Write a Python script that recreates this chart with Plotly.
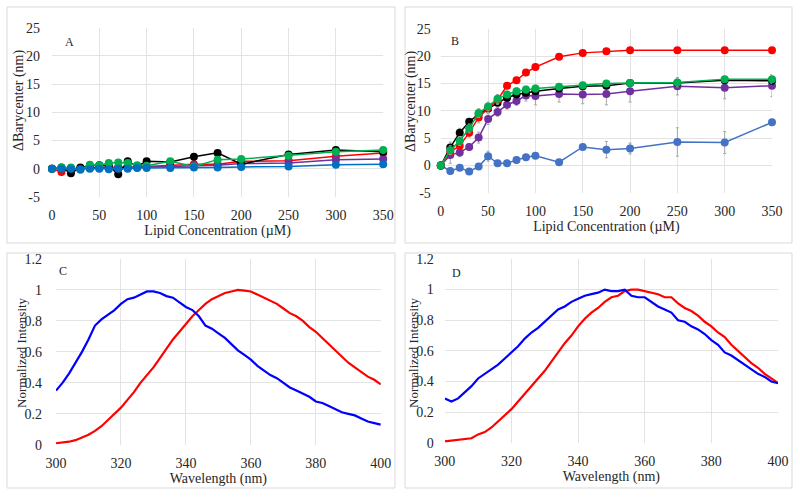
import plotly.graph_objects as go

# ---- data ----
lipid = [0, 10, 20, 30, 40, 50, 60, 70, 80, 90, 100, 125, 150, 175, 200, 250, 300, 350]

a_black = [0, 0.2, -0.8, 0.2, 0.5, 0.6, 0.5, -1.0, 1.3, 0.4, 1.3, 1.2, 2.1, 2.8, 0.8, 2.5, 3.3, 3.0]
a_green = [0, 0.2, 0.2, -0.2, 0.7, 0.6, 1.0, 1.1, 1.0, 0.6, 0.5, 1.3, 0.4, 1.6, 1.7, 2.3, 3.0, 3.3]
a_red = [0, -0.6, 0, 0, 0.1, 0.2, 0.2, 0.2, 0.3, 0.3, 0.4, 0.6, 0.8, 0.8, 1.3, 1.4, 2.2, 2.8]
a_purple = [0, 0.1, 0, 0, 0.1, 0.1, 0.1, 0.2, 0.2, 0.2, 0.3, 0.4, 0.5, 0.6, 0.9, 1.0, 1.6, 1.7]
a_blue = [0, 0, 0, -0.1, 0, 0, -0.1, 0, 0, 0.1, 0.1, 0.1, 0.2, 0.2, 0.3, 0.4, 0.7, 0.8]

b_red = [0, 2.5, 3.6, 6.0, 8.8, 10.5, 12.0, 14.6, 15.6, 17.0, 18.0, 19.9, 20.6, 20.9, 21.1, 21.1, 21.1, 21.1]
b_green = [0, 2.8, 4.5, 6.8, 9.6, 10.8, 12.2, 13.0, 13.6, 13.9, 14.1, 14.4, 14.7, 15.0, 15.1, 15.2, 15.8, 15.8]
b_black = [0, 3.3, 6.0, 8.0, 9.4, 10.4, 11.5, 12.4, 13.0, 13.3, 13.6, 14.1, 14.5, 14.6, 15.1, 15.1, 15.6, 15.5]
b_purple = [0, 1.9, 2.4, 3.4, 5.1, 8.5, 9.8, 11.1, 11.8, 12.8, 12.7, 13.1, 13.0, 13.1, 13.6, 14.5, 14.2, 14.6]
b_blue = [0, -1.0, -0.4, -1.1, -0.2, 1.7, 0.4, 0.4, 1.0, 1.5, 1.8, 0.6, 3.4, 2.9, 3.1, 4.3, 4.2, 7.9]

b_red_err = [0, 0.5, 0.5, 0.8, 1.0, 0.8, 0.8, 0.5, 0.5, 0.5, 0.5, 0.4, 0.4, 0.4, 0.3, 0.3, 0.3, 0.3]
b_green_err = [0, 0.8, 0.8, 0.8, 0.8, 0.8, 0.8, 0.6, 0.6, 0.6, 0.6, 0.5, 0.5, 0.5, 0.5, 0.8, 0.5, 0.8]
b_black_err = [0, 1.0, 0.8, 0.6, 0.6, 0.6, 0.6, 0.5, 0.5, 0.5, 0.5, 0.5, 0.5, 0.5, 0.5, 0.5, 0.5, 0.5]
b_purple_err = [0, 1.5, 0.8, 0.6, 1.0, 1.0, 0.8, 0.8, 0.8, 1.0, 1.6, 1.5, 1.7, 2.0, 2.0, 1.6, 2.0, 2.0]
b_blue_err = [0, 0.6, 0.5, 0.5, 0.5, 0.9, 0.5, 0.5, 0.5, 0.5, 0.5, 0.5, 0.5, 1.5, 1.0, 2.6, 2.0, 0.6]

bary_ticks = [-5, 0, 5, 10, 15, 20, 25]
bary_ticktext = ["-5", "0", "5", "10", "15", "20", "25"]
ni_ticks = [0, 0.2, 0.4, 0.6, 0.8, 1.0, 1.2]
ni_ticktext = ["0", "0.2", "0.4", "0.6", "0.8", "1", "1.2"]

wavelength = list(range(300, 401, 2))

c_blue = [0.35, 0.40, 0.46, 0.53, 0.60, 0.68, 0.77, 0.81, 0.84, 0.87, 0.91, 0.94, 0.95, 0.97, 0.99,
          0.99, 0.98, 0.96, 0.95, 0.92, 0.89, 0.87, 0.83, 0.77, 0.75, 0.72, 0.69, 0.65, 0.61, 0.58,
          0.55, 0.51, 0.48, 0.45, 0.43, 0.40, 0.37, 0.35, 0.33, 0.31, 0.28, 0.27, 0.25, 0.23, 0.21,
          0.20, 0.19, 0.17, 0.15, 0.14, 0.13]
c_red = [0.01, 0.015, 0.02, 0.03, 0.045, 0.065, 0.09, 0.12, 0.16, 0.20, 0.24, 0.29, 0.34, 0.40, 0.45,
         0.50, 0.56, 0.62, 0.68, 0.73, 0.78, 0.83, 0.87, 0.91, 0.94, 0.96, 0.98, 0.99, 1.0, 0.995,
         0.99, 0.97, 0.95, 0.93, 0.91, 0.88, 0.85, 0.83, 0.80, 0.76, 0.73, 0.69, 0.65, 0.61, 0.57,
         0.53, 0.50, 0.47, 0.44, 0.42, 0.39]

d_blue = [0.29, 0.27, 0.29, 0.33, 0.37, 0.42, 0.45, 0.48, 0.51, 0.55, 0.59, 0.63, 0.68, 0.72, 0.75,
          0.79, 0.83, 0.87, 0.89, 0.92, 0.94, 0.96, 0.97, 0.98, 1.0, 0.99, 0.99, 1.0, 0.96, 0.95,
          0.95, 0.92, 0.89, 0.87, 0.85, 0.80, 0.79, 0.76, 0.74, 0.71, 0.67, 0.64, 0.59, 0.57, 0.54,
          0.51, 0.48, 0.45, 0.43, 0.40, 0.39]
d_red = [0.01, 0.015, 0.02, 0.025, 0.03, 0.055, 0.07, 0.10, 0.14, 0.18, 0.22, 0.27, 0.32, 0.37, 0.42,
         0.47, 0.53, 0.59, 0.65, 0.70, 0.76, 0.81, 0.85, 0.88, 0.92, 0.95, 0.96, 0.99, 1.0, 1.0,
         0.99, 0.98, 0.97, 0.95, 0.95, 0.91, 0.88, 0.86, 0.83, 0.79, 0.76, 0.72, 0.69, 0.64, 0.60,
         0.56, 0.52, 0.49, 0.45, 0.42, 0.39]

RED = "#FF0000"
GREEN = "#00B050"
BLACK = "#000000"
PURPLE = "#7030A0"
BLUE_A = "#0070C0"
BLUE_B = "#4472C4"
FONT = "Liberation Serif"
W, H = 800, 497

fig = go.Figure()


def add_series(y, color, xa, ya, err=None):
    fig.add_trace(go.Scatter(
        x=lipid, y=y, mode="lines+markers", xaxis=xa, yaxis=ya,
        line=dict(color=color, width=1.5),
        marker=dict(color=color, size=8),
        error_y=None if err is None else dict(type="data", array=err, color="#A6A6A6",
                                              thickness=1, width=1.5),
        cliponaxis=False,
        showlegend=False,
    ))


# panel A
for y, c in [(a_red, RED), (a_purple, PURPLE), (a_black, BLACK), (a_green, GREEN), (a_blue, BLUE_A)]:
    add_series(y, c, "x", "y")

# panel B
for y, c, e in [(b_blue, BLUE_B, b_blue_err), (b_purple, PURPLE, b_purple_err),
                (b_black, BLACK, b_black_err), (b_red, RED, b_red_err), (b_green, GREEN, b_green_err)]:
    add_series(y, c, "x2", "y2", e)

# panels C and D
for y, c, xa, ya in [(c_red, RED, "x3", "y3"), (c_blue, "#0000FF", "x3", "y3"),
                     (d_red, RED, "x4", "y4"), (d_blue, "#0000FF", "x4", "y4")]:
    fig.add_trace(go.Scatter(x=wavelength, y=y, mode="lines", xaxis=xa, yaxis=ya,
                             line=dict(color=c, width=2.2), cliponaxis=False, showlegend=False))

grid = "#E3E3E3"
ink = "#262626"
tickfont = dict(family=FONT, size=14, color=ink)
titlefont = dict(family=FONT, size=14, color=ink)

common_x = dict(showgrid=True, gridcolor=grid, zeroline=False, showline=False, automargin=False,
                tickfont=tickfont, ticks="", ticklabelstandoff=8, fixedrange=True)
common_y = dict(showgrid=True, gridcolor=grid, zeroline=False, showline=False, automargin=False,
                tickfont=tickfont, ticks="", ticklabelstandoff=11, fixedrange=True)

lip_title = dict(text="Lipid Concentration (µM)", font=titlefont, standoff=2)
wl_title = dict(text="Wavelength (nm)", font=titlefont, standoff=2)

fig.update_layout(
    width=W, height=H,
    margin=dict(l=0, r=0, t=0, b=0),
    paper_bgcolor="white", plot_bgcolor="white",
    font=dict(family=FONT, color=ink),
    xaxis=dict(common_x, domain=[0.065, 0.479], range=[0, 350], dtick=50, anchor="y", title=lip_title),
    yaxis=dict(common_y, domain=[0.604, 0.944], range=[-5, 25], tickvals=bary_ticks,
               ticktext=bary_ticktext, anchor="x"),
    xaxis2=dict(common_x, domain=[0.551, 0.965], range=[0, 350], dtick=50, anchor="y2", title=lip_title),
    yaxis2=dict(common_y, domain=[0.612, 0.942], range=[-5, 25], tickvals=bary_ticks,
                ticktext=bary_ticktext, anchor="x2", ticklabelstandoff=9),
    xaxis3=dict(common_x, domain=[0.070, 0.476], range=[300, 400], dtick=20, anchor="y3", title=wl_title),
    yaxis3=dict(common_y, domain=[0.105, 0.479], range=[0, 1.2], tickvals=ni_ticks,
                ticktext=ni_ticktext, anchor="x3", ticklabelstandoff=13),
    xaxis4=dict(common_x, domain=[0.556, 0.9725], range=[300, 400], dtick=20, anchor="y4", title=wl_title),
    yaxis4=dict(common_y, domain=[0.109, 0.479], range=[0, 1.2], tickvals=ni_ticks,
                ticktext=ni_ticktext, anchor="x4", ticklabelstandoff=10),
)

# card borders around each panel
for x0, y0, x1, y1 in [(7, 7, 395, 243), (405, 7, 792, 243), (7, 253, 395, 488), (405, 253, 792, 488)]:
    fig.add_shape(type="rect", xref="paper", yref="paper",
                  x0=x0 / W, x1=x1 / W, y0=1 - y1 / H, y1=1 - y0 / H,
                  line=dict(color="#D9D9D9", width=1), layer="below")

# y-axis titles, placed by hand (pixel centres)
for text, px, py, size in [("ΔBarycenter (nm)", 19, 101, 14), ("ΔBarycenter (nm)", 411, 102, 14),
                           ("Normalized Intensity", 21, 353, 13), ("Normalized Intensity", 413, 353, 13)]:
    fig.add_annotation(text=text, x=px / W, y=1 - py / H, xref="paper", yref="paper",
                       textangle=-90, showarrow=False, xanchor="center", yanchor="middle",
                       font=dict(family=FONT, size=size, color=ink))

# panel letters
for label, xa, ya, xv, yv in [("A", "x", "y", 18, 22.5), ("B", "x2", "y2", 15, 22.8),
                              ("C", "x3", "y3", 302, 1.12), ("D", "x4", "y4", 303.6, 1.11)]:
    fig.add_annotation(text=label, x=xv, y=yv, xref=xa, yref=ya, showarrow=False,
                       font=dict(family=FONT, size=12, color=ink))

# drop the default page margin so the figure sits at the window's top-left corner
fig.write_html("out.html", config={"displayModeBar": False},
               post_script="document.body.style.margin='0';")
